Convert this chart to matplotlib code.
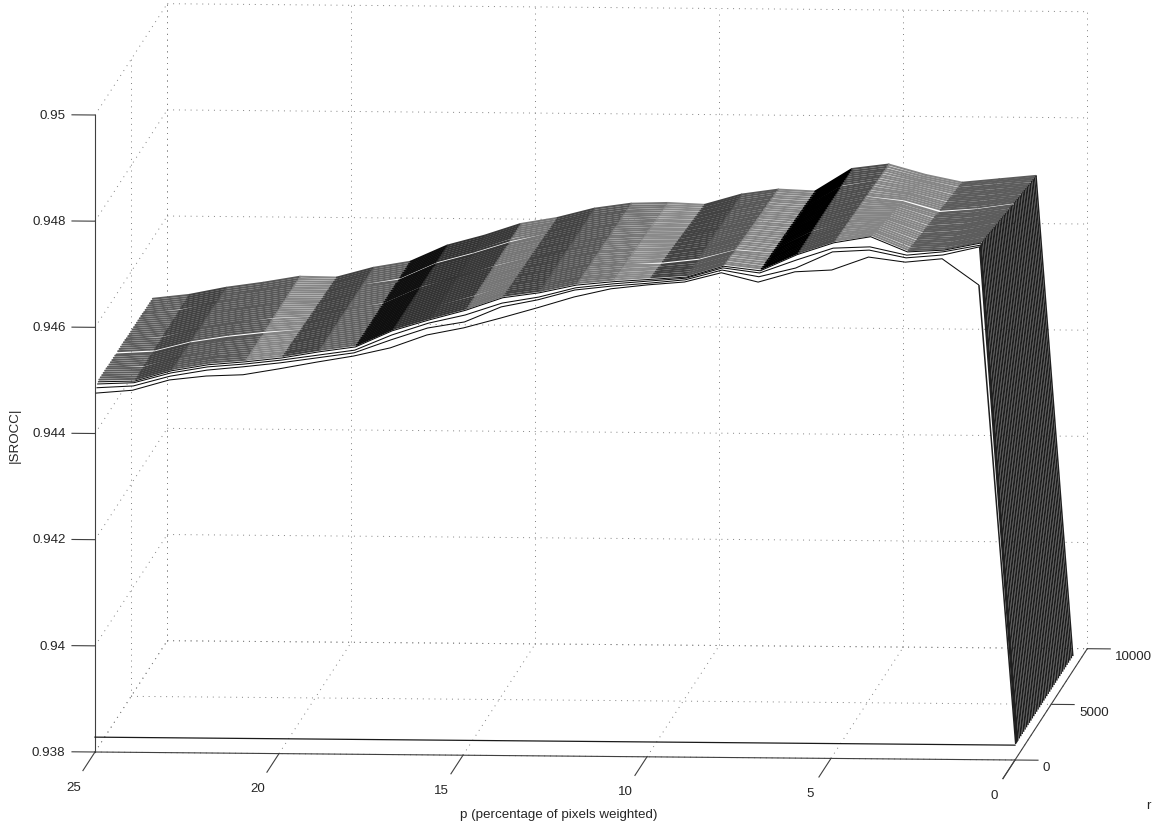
# Waterfall style line plot of |SROCC| against p and r
import matplotlib
matplotlib.use('Agg')
import matplotlib.pyplot as plt
from mpl_toolkits.mplot3d import proj3d
from mpl_toolkits.mplot3d.art3d import Line3DCollection

plt.rcParams['font.family'] = ['Liberation Sans', 'DejaVu Sans']

# p value of every column, left to right. The last column (p = 0) is z_p0 for all curves
p_values = [25, 24, 23, 22, 21, 20, 19, 18, 17, 16, 15, 14, 13, 12, 11, 10, 9, 8, 7, 6, 5, 4, 3, 2, 1]
z_p0 = 0.93828
z_r0 = 0.93828  # the r = 0 curve is flat

# r of each curve
r_low = [100, 200, 300, 400]
r_sheet = [600, 800, 1000, 1200, 1400, 1600, 1800, 2000, 2200, 2400, 2600, 2800, 3000,
           3200, 3400, 3600, 3800, 4000, 4200, 4400, 4600, 4800, 5000, 5200, 5400, 5600,
           5800, 6000, 6200, 6400, 6600, 6800, 7000, 7200, 7400, 7600, 7800, 8000]

# curve values in units of 1e-5 above 0.94, one row per r
z_low = [
    [474, 480, 500, 508, 511, 523, 536, 548, 564, 589, 603, 622, 642, 663, 679, 687, 693, 711, 694, 714, 718, 743, 734, 741, 692],
    [482, 486, 505, 517, 524, 532, 542, 552, 577, 600, 612, 641, 655, 674, 682, 688, 695, 714, 702, 719, 750, 754, 740, 746, 762],
    [487, 490, 509, 521, 527, 535, 545, 555, 584, 607, 623, 646, 658, 676, 684, 690, 696, 716, 707, 732, 755, 758, 743, 750, 763],
    [489, 491, 511, 523, 529, 537, 549, 559, 590, 611, 630, 654, 664, 679, 686, 691, 696, 717, 709, 740, 763, 775, 747, 751, 765],
]
z_sheet = [
    [489, 491, 511, 523, 529, 537, 549, 559, 590, 611, 630, 654, 664, 679, 686, 691, 696, 717, 709, 740, 763, 774, 746, 750, 764],
    [489, 491, 511, 523, 529, 537, 549, 559, 590, 611, 630, 654, 664, 679, 686, 690, 696, 716, 708, 740, 762, 773, 745, 750, 763],
    [489, 491, 511, 523, 529, 536, 549, 559, 590, 611, 630, 653, 664, 679, 685, 690, 696, 716, 708, 740, 762, 772, 745, 749, 762],
    [489, 491, 511, 522, 529, 536, 549, 559, 590, 611, 630, 653, 664, 678, 685, 689, 696, 715, 708, 740, 762, 770, 744, 748, 762],
    [489, 491, 511, 522, 529, 536, 549, 559, 590, 611, 630, 653, 664, 678, 685, 689, 695, 715, 708, 740, 761, 769, 743, 748, 761],
    [489, 491, 511, 522, 529, 536, 549, 559, 590, 611, 630, 653, 664, 678, 684, 688, 695, 715, 707, 740, 761, 768, 742, 747, 760],
    [488, 492, 510, 522, 529, 536, 549, 559, 590, 611, 631, 652, 664, 678, 684, 688, 695, 714, 707, 740, 761, 767, 742, 746, 759],
    [488, 492, 510, 522, 529, 535, 549, 559, 590, 611, 631, 652, 664, 678, 684, 685, 693, 712, 707, 740, 760, 766, 741, 746, 758],
    [488, 492, 510, 522, 529, 535, 549, 559, 590, 611, 631, 652, 664, 678, 683, 687, 695, 713, 707, 740, 760, 765, 740, 745, 757],
    [488, 492, 510, 522, 529, 535, 549, 559, 590, 611, 631, 652, 664, 677, 683, 686, 695, 713, 706, 740, 760, 764, 739, 744, 756],
    [488, 492, 510, 522, 529, 535, 549, 559, 590, 611, 631, 651, 664, 677, 683, 686, 695, 713, 706, 741, 759, 763, 739, 744, 755],
    [488, 492, 510, 521, 529, 535, 549, 559, 590, 611, 631, 651, 664, 677, 683, 685, 695, 712, 706, 741, 759, 761, 738, 743, 755],
    [486, 490, 508, 519, 527, 534, 549, 559, 590, 611, 631, 651, 664, 677, 682, 685, 695, 712, 706, 741, 759, 760, 737, 742, 754],
    [488, 492, 510, 521, 529, 534, 549, 559, 590, 611, 631, 651, 664, 677, 682, 684, 694, 712, 705, 741, 759, 759, 736, 741, 753],
    [488, 492, 510, 521, 529, 534, 549, 559, 590, 611, 631, 650, 664, 677, 682, 684, 694, 711, 705, 741, 758, 758, 736, 741, 752],
    [488, 492, 510, 521, 529, 534, 549, 559, 590, 611, 631, 650, 664, 676, 681, 683, 694, 711, 705, 741, 758, 757, 735, 740, 751],
    [488, 492, 510, 521, 529, 533, 549, 559, 590, 611, 631, 650, 664, 676, 681, 683, 694, 710, 705, 741, 758, 756, 734, 739, 750],
    [488, 492, 510, 521, 529, 533, 549, 559, 590, 611, 631, 650, 664, 676, 681, 682, 694, 710, 704, 741, 757, 755, 733, 739, 749],
    [488, 492, 510, 521, 529, 533, 549, 559, 590, 611, 631, 649, 664, 676, 681, 682, 694, 710, 704, 741, 757, 754, 733, 738, 748],
    [487, 493, 509, 520, 530, 533, 548, 560, 591, 610, 632, 649, 663, 676, 680, 681, 694, 709, 704, 741, 757, 752, 732, 737, 748],
    [487, 493, 509, 520, 530, 533, 548, 560, 591, 610, 632, 649, 663, 676, 680, 681, 694, 709, 704, 741, 756, 751, 731, 737, 747],
    [487, 493, 509, 520, 530, 532, 548, 560, 591, 610, 632, 649, 663, 676, 680, 680, 694, 708, 703, 741, 756, 748, 728, 734, 744],
    [487, 493, 509, 520, 530, 532, 548, 560, 591, 610, 632, 649, 663, 675, 679, 680, 693, 708, 703, 741, 756, 749, 730, 735, 745],
    [487, 493, 509, 520, 530, 532, 548, 560, 591, 610, 632, 648, 663, 675, 679, 679, 693, 708, 703, 741, 755, 748, 729, 735, 744],
    [487, 493, 509, 520, 530, 532, 548, 560, 591, 610, 632, 648, 663, 675, 679, 679, 693, 707, 703, 741, 755, 747, 728, 734, 743],
    [487, 493, 509, 520, 530, 532, 548, 560, 591, 610, 632, 648, 663, 675, 678, 678, 693, 707, 702, 741, 755, 746, 727, 733, 742],
    [487, 493, 509, 519, 530, 531, 548, 560, 591, 610, 632, 648, 663, 675, 678, 678, 693, 706, 702, 741, 754, 744, 726, 733, 741],
    [487, 493, 509, 519, 530, 531, 548, 560, 591, 610, 632, 647, 663, 675, 678, 677, 693, 706, 702, 741, 754, 743, 726, 732, 741],
    [487, 493, 509, 519, 530, 531, 548, 560, 591, 610, 632, 647, 663, 674, 678, 677, 693, 706, 701, 741, 754, 742, 725, 731, 740],
    [487, 493, 509, 519, 530, 531, 548, 558, 589, 608, 630, 647, 663, 674, 677, 676, 693, 705, 701, 741, 753, 741, 724, 731, 739],
    [487, 493, 509, 519, 530, 531, 548, 560, 591, 610, 632, 647, 663, 674, 677, 676, 693, 705, 701, 742, 753, 740, 723, 730, 738],
    [486, 494, 508, 519, 530, 530, 548, 560, 591, 610, 633, 646, 663, 674, 677, 675, 692, 705, 701, 742, 753, 739, 723, 729, 737],
    [486, 494, 508, 519, 530, 530, 548, 560, 591, 610, 633, 646, 663, 674, 676, 675, 692, 704, 700, 742, 752, 738, 722, 729, 736],
    [486, 494, 508, 519, 530, 530, 548, 560, 591, 610, 633, 646, 663, 674, 676, 674, 692, 704, 700, 742, 752, 737, 721, 728, 735],
    [486, 494, 508, 518, 530, 530, 548, 560, 591, 610, 633, 646, 663, 673, 676, 674, 692, 703, 700, 742, 752, 735, 720, 727, 735],
    [486, 494, 508, 518, 530, 529, 548, 560, 591, 610, 633, 645, 663, 673, 676, 673, 692, 703, 700, 742, 751, 734, 720, 727, 734],
    [486, 494, 508, 518, 530, 529, 548, 560, 591, 610, 633, 645, 663, 673, 675, 673, 692, 703, 699, 742, 751, 733, 719, 726, 733],
    [486, 494, 508, 518, 530, 529, 548, 560, 591, 610, 633, 645, 663, 673, 675, 672, 692, 702, 699, 742, 751, 732, 718, 725, 732],
]

# grey of the sheet in each span between two columns
band_gray = [0.36, 0.26, 0.34, 0.34, 0.52, 0.26, 0.38, 0.06, 0.20, 0.22, 0.46, 0.26, 0.34,
             0.46, 0.54, 0.26, 0.34, 0.52, 0.0, 0.30, 0.52, 0.52, 0.36, 0.36]

# axis ticks
p_ticks = [25, 20, 15, 10, 5, 0]
r_ticks = [0, 5000, 10000]
z_ticks = [0.938, 0.94, 0.942, 0.944, 0.946, 0.948, 0.95]
z_labels = ['0.938', '0.94', '0.942', '0.944', '0.946', '0.948', '0.95']

W, H = 1155, 827
fig = plt.figure(figsize=(W / 100, H / 100), dpi=100)
ax = fig.add_axes([0, 0, 1, 1], projection='3d')
ax.set_proj_type('ortho')
ax.view_init(elev=6.65, azim=-85.7)
ax.set_xlim(25, 0, view_margin=0)
ax.set_ylim(0, 10000, view_margin=0)
ax.set_zlim(0.938, 0.95, view_margin=0)
ax.set_axis_off()
ax.computed_zorder = False
aspect = (922.6, 964.0, 641.3)
ax.set_box_aspect(aspect, zoom=1)


# Pixel position of a data point, y counted from the top
def to_pixels(p, r, z):
    xs, ys, _ = proj3d.proj_transform(p, r, z, ax.get_proj())
    px, py = ax.transData.transform((xs, ys))
    return px, H - py


# Fit scale and offset so the front floor edge lands on the reference pixels
fig.canvas.draw()
x0, _ = to_pixels(25, 0, 0.938)
x1, _ = to_pixels(0, 0, 0.938)
ax.set_box_aspect(aspect, zoom=920.0 / (x1 - x0))
fig.canvas.draw()
x0, y0 = to_pixels(25, 0, 0.938)
pos = ax.get_position(original=True)
ax.set_position([pos.x0 + (95 - x0) / W, pos.y0 - (752 - y0) / H, pos.width, pos.height])
fig.canvas.draw()


# Solid thin line of the axes, also used for the dotted grid
def axis_line(p, r, z, **kw):
    style = dict(color='0.25', lw=0.8, clip_on=False, zorder=1)
    style.update(kw)
    ax.plot(p, r, z, **style)


grid = dict(color='0.5', lw=0.7, ls=(0, (1, 5)), zorder=0)
zlo, zhi = z_ticks[0], z_ticks[-1]
for p in p_ticks:
    axis_line([p, p], [10000, 10000], [zlo, zhi], **grid)
    axis_line([p, p], [0, 10000], [zlo, zlo], **grid)
for r in r_ticks:
    axis_line([25, 25], [r, r], [zlo, zhi], **grid)
    axis_line([25, 0], [r, r], [zlo, zlo], **grid)
for z in z_ticks:
    axis_line([25, 0], [10000, 10000], [z, z], **grid)
    axis_line([25, 25], [0, 10000], [z, z], **grid)

# axes and ticks
axis_line([25, 25], [0, 0], [zlo, zhi])
axis_line([25, 0], [0, 0], [zlo, zlo])
axis_line([0, 0], [-1670, 10000], [zlo, zlo])
for p in p_ticks:
    axis_line([p, p], [-1670, 0], [zlo, zlo])
    ax.text(p - 0.05, -3200, zlo, str(p), ha='center', va='center', fontsize=9.6, color='0.15')
for r in r_ticks:
    axis_line([0, -0.625], [r, r], [zlo, zlo])
    ax.text(-0.76, r, zlo - 0.00015, str(r), ha='left', va='center', fontsize=9.6, color='0.15')
for z, label in zip(z_ticks, z_labels):
    axis_line([25, 25.625], [0, 0], [z, z])
    ax.text(25.8, 0, z - 0.00002, label, ha='right', va='center', fontsize=9.6, color='0.15')

# The r = 0 curve
axis_line([25, 0], [0, 0], [z_r0, z_r0], color='0.1', lw=0.9, zorder=3)

# Dense curves, one segment per span so each span gets its own grey
segs, cols = [], []
for r, row in zip(r_sheet, z_sheet):
    z = [0.94 + v / 1e5 for v in row]
    for j in range(len(p_values) - 1):
        segs.append([(p_values[j], r, z[j]), (p_values[j + 1], r, z[j + 1])])
        cols.append(str(band_gray[j]))
sheet = Line3DCollection(segs, colors=cols, linewidths=1.45, zorder=2, capstyle='round')
sheet.set_clip_on(False)
ax.add_collection3d(sheet)

# Front curves stay black and thin
front = []
for r, row in zip(r_low, z_low):
    z = [0.94 + v / 1e5 for v in row]
    front.append([(p, r, v) for p, v in zip(p_values, z)])
low = Line3DCollection(front, colors='0.05', linewidths=0.75, zorder=3)
low.set_clip_on(False)
ax.add_collection3d(low)

# Drop of every curve from p = 1 to p = 0
wall = []
for r, row in zip(r_low + r_sheet, z_low + z_sheet):
    wall.append([(p_values[-1], r, 0.94 + row[-1] / 1e5), (0, r, z_p0)])
drop = Line3DCollection(wall, colors='0.12', linewidths=1.1, zorder=4)
drop.set_clip_on(False)
ax.add_collection3d(drop)

ax.set_xlim(25, 0, view_margin=0)
ax.set_ylim(0, 10000, view_margin=0)
ax.set_zlim(0.938, 0.95, view_margin=0)

fig.text(559 / W, 1 - 815 / H, 'p (percentage of pixels weighted)', ha='center', va='center', fontsize=9.6, color='0.15')
fig.text(15 / W, 1 - 435 / H, '|SROCC|', rotation=90, ha='center', va='center', fontsize=9.6, color='0.15')
fig.text(1148 / W, 1 - 806 / H, 'r', ha='center', va='center', fontsize=9.6, color='0.15')

fig.savefig('out.png', dpi=100)
